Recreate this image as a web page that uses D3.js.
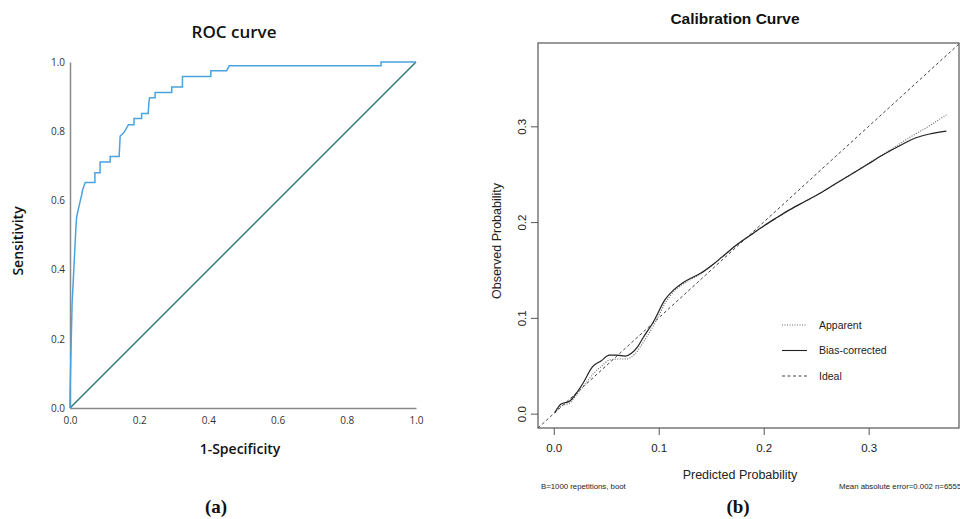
<!DOCTYPE html>
<html>
<head>
<meta charset="utf-8">
<script src="https://cdn.jsdelivr.net/npm/d3@7"></script>
<style>
  body { margin: 0; background: #fff; }
  svg { display: block; }
</style>
</head>
<body>
<div id="chart"></div>
<script>
// ROC curve points (1-specificity, sensitivity)
const rocFpr = [0, 0, 0.003, 0.006, 0.011, 0.015, 0.017, 0.019, 0.024, 0.030, 0.034, 0.037, 0.044, 0.072, 0.072, 0.087, 0.087, 0.116, 0.116, 0.142, 0.145, 0.156, 0.169, 0.185, 0.185, 0.207, 0.207, 0.226, 0.228, 0.230, 0.246, 0.246, 0.294, 0.294, 0.325, 0.325, 0.407, 0.407, 0.453, 0.460, 0.899, 0.899, 1.0];
const rocTpr = [0, 0.04, 0.17, 0.30, 0.40, 0.48, 0.52, 0.55, 0.575, 0.60, 0.617, 0.632, 0.652, 0.652, 0.68, 0.68, 0.711, 0.711, 0.727, 0.727, 0.786, 0.796, 0.819, 0.819, 0.837, 0.837, 0.851, 0.851, 0.883, 0.897, 0.897, 0.912, 0.912, 0.928, 0.928, 0.958, 0.958, 0.975, 0.975, 0.989, 0.989, 1.0, 1.0];
const rocTicks = [0, 0.2, 0.4, 0.6, 0.8, 1.0];

// Calibration curves (predicted, observed)
const biasPred = [0.001, 0.007, 0.015, 0.022, 0.028, 0.037, 0.045, 0.053, 0.060, 0.068, 0.074, 0.080, 0.085, 0.095, 0.106, 0.114, 0.122, 0.130, 0.139, 0.152, 0.164, 0.174, 0.187, 0.200, 0.213, 0.225, 0.240, 0.255, 0.270, 0.285, 0.300, 0.315, 0.330, 0.345, 0.358, 0.374];
const biasObs  = [0.001, 0.010, 0.013, 0.022, 0.032, 0.049, 0.055, 0.061, 0.061, 0.060, 0.063, 0.070, 0.079, 0.096, 0.119, 0.129, 0.136, 0.141, 0.146, 0.156, 0.167, 0.176, 0.186, 0.196, 0.205, 0.213, 0.222, 0.231, 0.241, 0.251, 0.261, 0.271, 0.280, 0.288, 0.292, 0.295];
const appPred  = [0.001, 0.007, 0.015, 0.022, 0.030, 0.038, 0.046, 0.053, 0.061, 0.069, 0.077, 0.082, 0.088, 0.098, 0.107, 0.115, 0.123, 0.132, 0.140, 0.152, 0.164, 0.174, 0.187, 0.200, 0.213, 0.225, 0.240, 0.255, 0.270, 0.285, 0.300, 0.320, 0.340, 0.357, 0.374];
const appObs   = [0.001, 0.008, 0.011, 0.020, 0.031, 0.042, 0.050, 0.056, 0.057, 0.057, 0.062, 0.069, 0.079, 0.098, 0.117, 0.128, 0.135, 0.141, 0.146, 0.156, 0.167, 0.176, 0.186, 0.196, 0.205, 0.213, 0.222, 0.231, 0.241, 0.251, 0.2615, 0.275, 0.289, 0.300, 0.312];
const idealLine = [-0.015, 0.387];
const calTicks = [0, 0.1, 0.2, 0.3];
const legendLabels = ["Apparent", "Bias-corrected", "Ideal"];

const svg = d3.select("#chart").append("svg")
    .attr("width", 960)
    .attr("height", 519);

// ---------- (a) ROC curve ----------
const rocSans = "'Open Sans', 'Noto Sans', sans-serif";
const x = d3.scaleLinear().domain([0, 1]).range([70, 416]);
const y = d3.scaleLinear().domain([0, 1]).range([408, 62]);

const roc = svg.append("g");

roc.append("g")
    .attr("transform", "translate(0,408)")
    .call(d3.axisBottom(x).tickValues(rocTicks).tickFormat(d3.format(".1f")).tickSize(0).tickPadding(9))
    .call(g => g.select(".domain").attr("stroke", "#8a8a8a").attr("stroke-width", 1.5))
    .selectAll("text")
    .attr("font-family", rocSans).attr("font-size", 10).attr("fill", "#333");

roc.append("g")
    .attr("transform", "translate(70,0)")
    .call(d3.axisLeft(y).tickValues(rocTicks).tickFormat(d3.format(".1f")).tickSize(0).tickPadding(5))
    .call(g => g.select(".domain").attr("stroke", "#8a8a8a").attr("stroke-width", 1.5))
    .selectAll("text")
    .attr("font-family", rocSans).attr("font-size", 10).attr("fill", "#333");

// reference diagonal
roc.append("line")
    .attr("x1", x(0)).attr("y1", y(0))
    .attr("x2", x(1)).attr("y2", y(1))
    .attr("stroke", "#2b7a78").attr("stroke-width", 1.4);

const rocPts = rocFpr.map((f, i) => [f, rocTpr[i]]);
roc.append("path")
    .datum(rocPts)
    .attr("fill", "none")
    .attr("stroke", "#4aa3df")
    .attr("stroke-width", 1.5)
    .attr("d", d3.line().x(d => x(d[0])).y(d => y(d[1])));

roc.append("text")
    .attr("x", 234).attr("y", 38)
    .attr("text-anchor", "middle")
    .attr("font-family", rocSans).attr("font-weight", 600).attr("font-size", 17)
    .attr("fill", "#111")
    .text("ROC curve");

roc.append("text")
    .attr("x", 240).attr("y", 454)
    .attr("text-anchor", "middle")
    .attr("font-family", rocSans).attr("font-weight", 600).attr("font-size", 14)
    .attr("fill", "#111")
    .text("1-Specificity");

roc.append("text")
    .attr("transform", "translate(23,241) rotate(-90)")
    .attr("text-anchor", "middle")
    .attr("font-family", rocSans).attr("font-weight", 600).attr("font-size", 14)
    .attr("fill", "#111")
    .text("Sensitivity");

// ---------- (b) Calibration curve ----------
const arial = "'Liberation Sans', Arial, sans-serif";
const cx = d3.scaleLinear().domain([-0.015, 0.387]).range([538, 960]);
const cy = d3.scaleLinear().domain([-0.015, 0.387]).range([428, 43]);

const cal = svg.append("g");

cal.append("rect")
    .attr("x", 538).attr("y", 43)
    .attr("width", 421).attr("height", 385)
    .attr("fill", "none")
    .attr("stroke", "#555").attr("stroke-width", 1.2);

cal.append("g")
    .attr("transform", "translate(0,428)")
    .call(d3.axisBottom(cx).tickValues(calTicks).tickFormat(d3.format(".1f")).tickSize(7).tickPadding(9))
    .call(g => g.select(".domain").remove())
    .call(g => g.selectAll("line").attr("stroke", "#555"))
    .selectAll("text")
    .attr("font-family", arial).attr("font-size", 11.5).attr("fill", "#222");

cal.append("g")
    .attr("transform", "translate(538,0)")
    .call(d3.axisLeft(cy).tickValues(calTicks).tickFormat(d3.format(".1f")).tickSize(7))
    .call(g => g.select(".domain").remove())
    .call(g => g.selectAll("line").attr("stroke", "#555"))
    .selectAll("text")
    .attr("font-family", arial).attr("font-size", 11.5).attr("fill", "#222")
    .attr("text-anchor", "middle")
    .attr("x", 0).attr("dy", 0)
    .attr("transform", "translate(-12,0) rotate(-90)");

const calLine = d3.line().x(d => cx(d[0])).y(d => cy(d[1]));

cal.append("path")
    .datum(idealLine.map(v => [v, v]))
    .attr("fill", "none")
    .attr("stroke", "#444").attr("stroke-width", 1)
    .attr("stroke-dasharray", "3,2.5")
    .attr("d", calLine);

cal.append("path")
    .datum(appPred.map((p, i) => [p, appObs[i]]))
    .attr("fill", "none")
    .attr("stroke", "#666").attr("stroke-width", 1.1)
    .attr("stroke-dasharray", "1,1.5")
    .attr("d", calLine.curve(d3.curveMonotoneX));

cal.append("path")
    .datum(biasPred.map((p, i) => [p, biasObs[i]]))
    .attr("fill", "none")
    .attr("stroke", "#222").attr("stroke-width", 1.2)
    .attr("d", calLine.curve(d3.curveMonotoneX));

// legend
const dashes = ["1,1.5", null, "3,2.5"];
const strokes = ["#666", "#222", "#444"];
const legend = cal.append("g");
legendLabels.forEach((lab, i) => {
    const ly = 325 + i * 25.5;
    legend.append("line")
        .attr("x1", 782).attr("x2", 807)
        .attr("y1", ly).attr("y2", ly)
        .attr("stroke", strokes[i]).attr("stroke-width", 1.1)
        .attr("stroke-dasharray", dashes[i]);
    legend.append("text")
        .attr("x", 819).attr("y", ly + 3.8)
        .attr("font-family", arial).attr("font-size", 10.5).attr("fill", "#222")
        .text(lab);
});

cal.append("text")
    .attr("x", 735).attr("y", 24)
    .attr("text-anchor", "middle")
    .attr("font-family", arial).attr("font-weight", "bold").attr("font-size", 15.5)
    .attr("fill", "#111")
    .text("Calibration Curve");

cal.append("text")
    .attr("x", 740).attr("y", 479)
    .attr("text-anchor", "middle")
    .attr("font-family", arial).attr("font-size", 12.5).attr("fill", "#222")
    .text("Predicted Probability");

cal.append("text")
    .attr("transform", "translate(501,241) rotate(-90)")
    .attr("text-anchor", "middle")
    .attr("font-family", arial).attr("font-size", 12.5).attr("fill", "#222")
    .text("Observed Probability");

cal.append("text")
    .attr("x", 541).attr("y", 489)
    .attr("font-family", arial).attr("font-size", 7.8).attr("fill", "#222")
    .text("B=1000 repetitions, boot");

cal.append("text")
    .attr("x", 839).attr("y", 489)
    .attr("font-family", arial).attr("font-size", 7.8).attr("fill", "#222")
    .text("Mean absolute error=0.002 n=6555");

// panel letters
const serif = "'Liberation Serif', 'DejaVu Serif', serif";
svg.append("text")
    .attr("x", 216).attr("y", 513)
    .attr("text-anchor", "middle")
    .attr("font-family", serif).attr("font-weight", "bold").attr("font-size", 19)
    .attr("fill", "#111")
    .text("(a)");

svg.append("text")
    .attr("x", 738).attr("y", 513)
    .attr("text-anchor", "middle")
    .attr("font-family", serif).attr("font-weight", "bold").attr("font-size", 19)
    .attr("fill", "#111")
    .text("(b)");
</script>
</body>
</html>
